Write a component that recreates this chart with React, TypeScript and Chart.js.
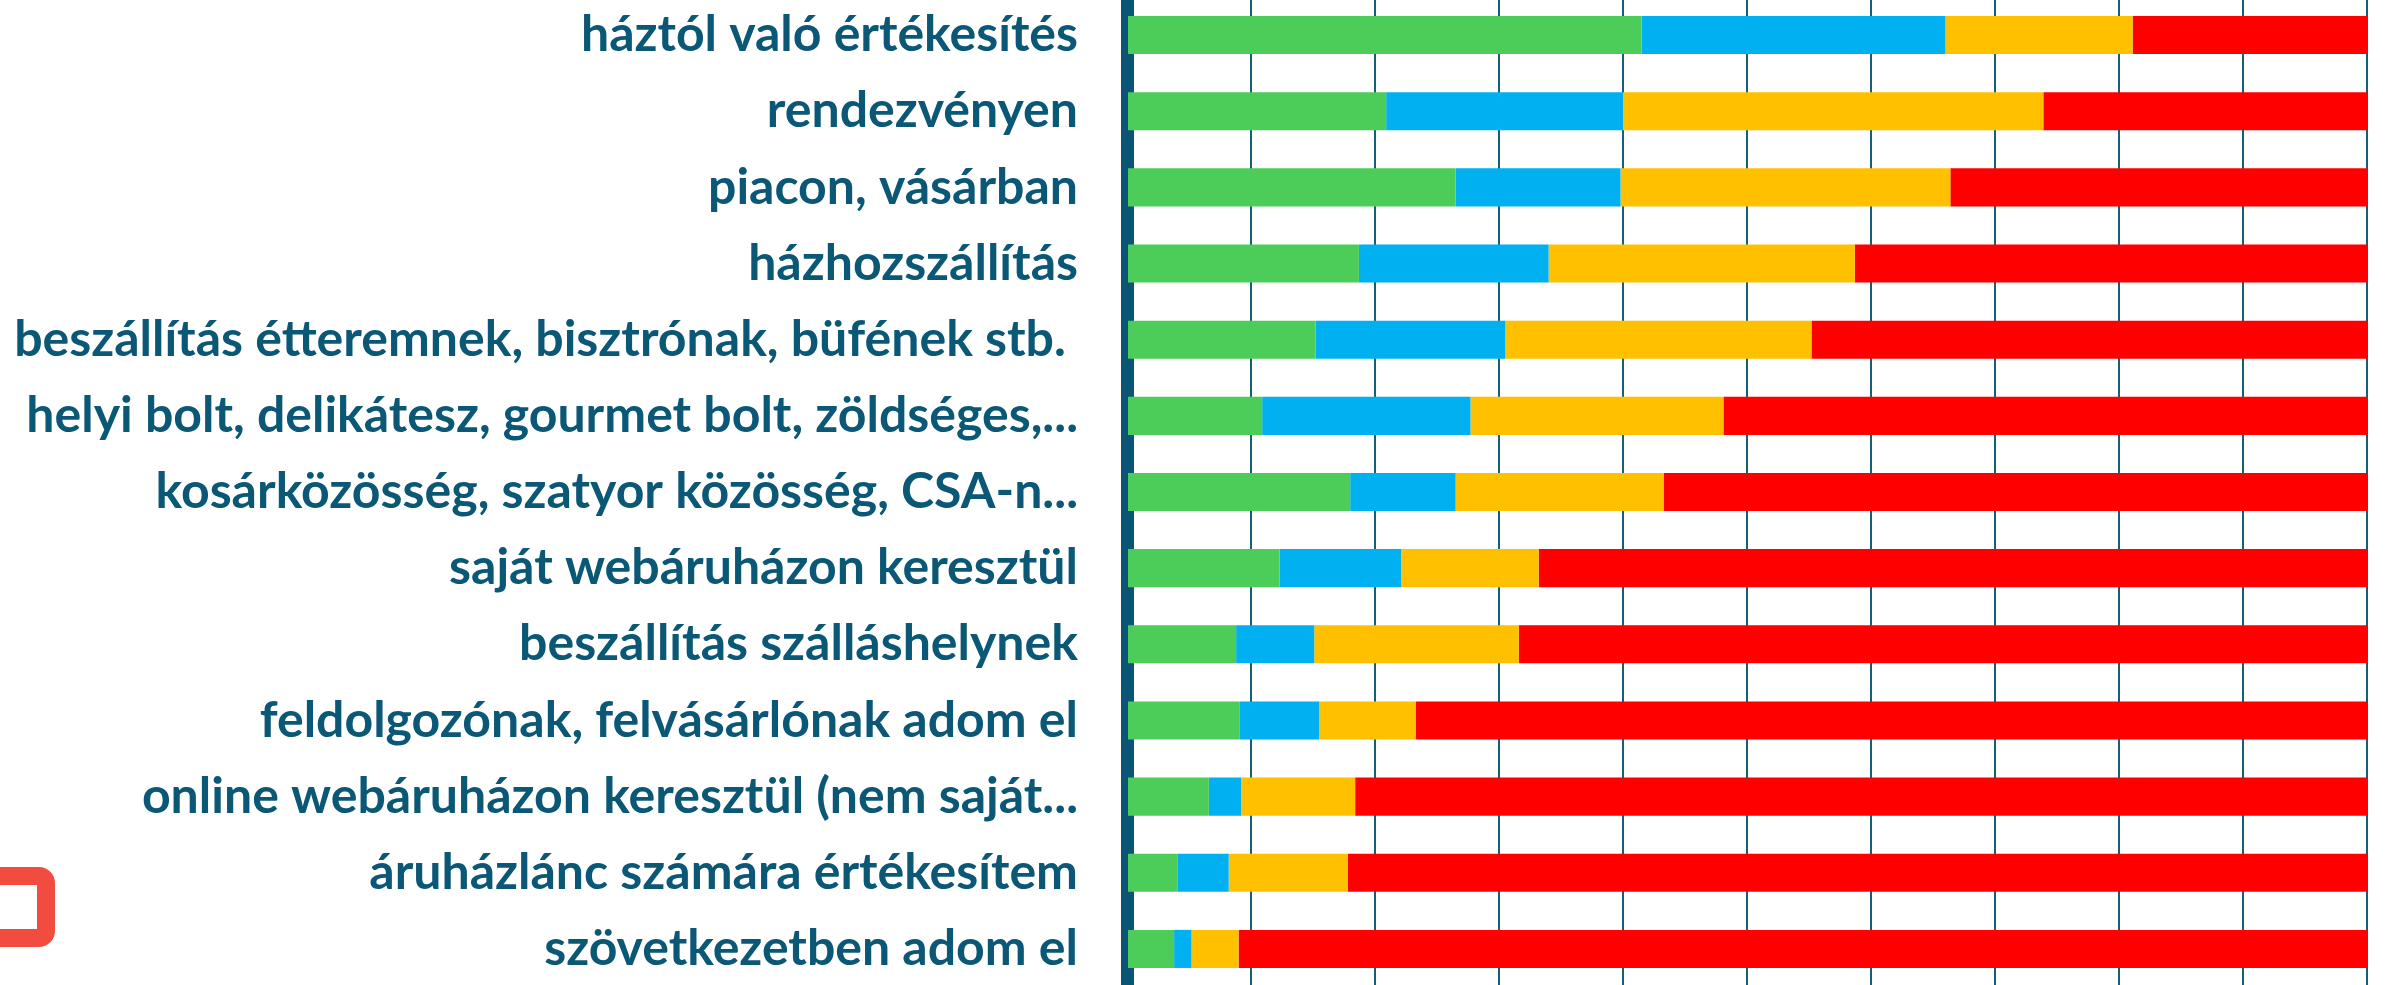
import React, { useEffect, useRef } from "react";
import { Chart, registerables } from "chart.js";

Chart.register(...registerables);

const categories = [
  "háztól való értékesítés",
  "rendezvényen",
  "piacon, vásárban",
  "házhozszállítás",
  "beszállítás étteremnek, bisztrónak, büfének stb. ",
  "helyi bolt, delikátesz, gourmet bolt, zöldséges,...",
  "kosárközösség, szatyor közösség, CSA-n...",
  "saját webáruházon keresztül",
  "beszállítás szálláshelynek",
  "feldolgozónak, felvásárlónak adom el",
  "online webáruházon keresztül (nem saját...",
  "áruházlánc számára értékesítem",
  "szövetkezetben adom el",
];

const greenValues = [41.5, 20.9, 26.5, 18.7, 15.2, 10.9, 18.0, 12.3, 8.8, 9.1, 6.6, 4.1, 3.8];
const blueValues = [24.5, 19.1, 13.3, 15.3, 15.3, 16.8, 8.5, 9.8, 6.3, 6.4, 2.6, 4.1, 1.4];
const yellowValues = [15.1, 33.9, 26.6, 24.7, 24.7, 20.4, 16.8, 11.1, 16.5, 7.8, 9.2, 9.6, 3.8];
const redValues = [18.9, 26.1, 33.6, 41.3, 44.8, 51.9, 56.7, 66.8, 68.4, 76.7, 81.6, 82.2, 91.0];

const seriesNames = ["zöld", "kék", "sárga", "piros"];
const seriesColors = ["#4CCD5A", "#00B0F0", "#FFC000", "#FF0000"];

const xTicks = [0, 10, 20, 30, 40, 50, 60, 70, 80, 90, 100];

export default function App() {
  const canvasRef = useRef<HTMLCanvasElement | null>(null);

  useEffect(() => {
    const canvas = canvasRef.current;
    if (!canvas) return;
    const seriesValues = [greenValues, blueValues, yellowValues, redValues];
    const chart = new Chart(canvas, {
      type: "bar",
      data: {
        labels: categories,
        datasets: seriesValues.map((vals, i) => ({
          label: seriesNames[i],
          data: vals,
          backgroundColor: seriesColors[i],
          borderWidth: 0,
          categoryPercentage: 1,
          barPercentage: 0.5,
        })),
      },
      options: {
        indexAxis: "y",
        animation: false,
        responsive: false,
        maintainAspectRatio: false,
        layout: { padding: { top: 0, right: 20, bottom: 0, left: 0 } },
        plugins: {
          legend: { display: false },
          tooltip: { enabled: false },
          title: { display: false },
        },
        scales: {
          x: {
            stacked: true,
            min: 0,
            max: 100,
            afterBuildTicks: (scale: any) => {
              scale.ticks = xTicks.map((v) => ({ value: v }));
            },
            ticks: { display: false },
            grid: {
              display: true,
              color: "#13607D",
              lineWidth: 2,
              drawTicks: false,
            },
            border: { display: false },
            afterFit: (scale: any) => {
              scale.height = 0;
              scale.paddingTop = 0;
              scale.paddingBottom = 0;
              scale.paddingLeft = 0;
              scale.paddingRight = 0;
            },
          },
          y: {
            stacked: true,
            z: 1,
            afterFit: (scale: any) => {
              scale.width = 1127;
              scale.paddingTop = 0;
              scale.paddingBottom = 0;
            },
            ticks: {
              color: "#0B5876",
              padding: 49,
              font: { family: "Lato", weight: "bold", size: 50 },
              autoSkip: false,
            },
            grid: { display: false, drawTicks: false },
            border: { display: true, color: "#0A5575", width: 13 },
          },
        },
      },
    });
    return () => chart.destroy();
  }, []);

  return (
    <div
      style={{
        position: "absolute",
        left: 0,
        top: 0,
        width: 2387,
        height: 985,
        overflow: "hidden",
        background: "#ffffff",
      }}
    >
      <canvas
        ref={canvasRef}
        width={2387}
        height={990}
        style={{ position: "absolute", left: 0, top: -3, width: 2387, height: 990 }}
      />
      <div
        style={{
          position: "absolute",
          left: -40,
          top: 867,
          width: 95,
          height: 80,
          boxSizing: "border-box",
          border: "18px solid #F24C41",
          borderRadius: 16,
        }}
      />
    </div>
  );
}
